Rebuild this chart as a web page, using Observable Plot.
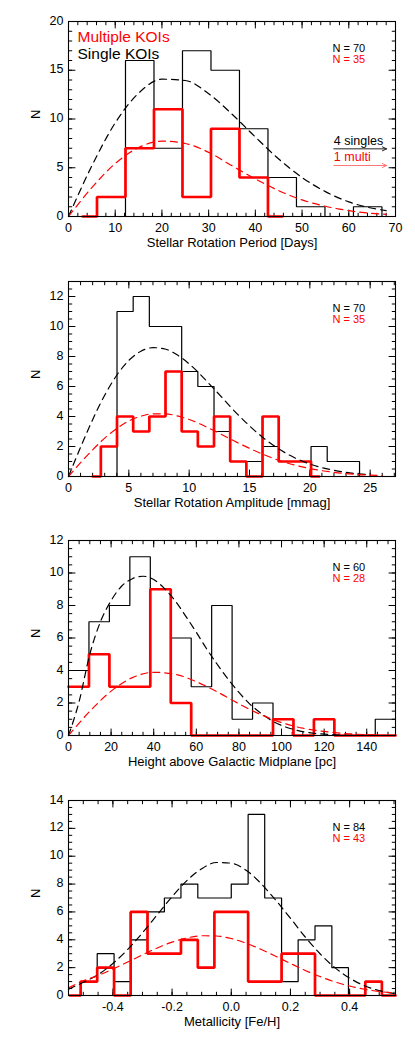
<!DOCTYPE html>
<html><head><meta charset="utf-8">
<script src="https://cdn.jsdelivr.net/npm/d3@7"></script>
<script src="https://cdn.jsdelivr.net/npm/@observablehq/plot@0.6"></script>
<style>
body{margin:0;background:#fff;}
#wrap{position:relative;width:415px;height:1038px;overflow:hidden;background:#fff;}
.panel{position:absolute;left:0;}
</style></head><body><div id="wrap"></div>
<script>
// ---------- Panel 1: Stellar Rotation Period ----------
const p1SingleX = [9.15, 12.2, 18.3, 24.4, 30.5, 36.6, 42.7, 48.8, 54.9, 61.0, 67.1, 70];
const p1SingleN = [0, 16, 7, 17, 15, 9, 4, 1, 0, 1, 0];
const p1MultiX  = [3.05, 6.1, 12.2, 18.3, 24.4, 30.5, 36.6, 42.7, 45.75];
const p1MultiN  = [0, 2, 7, 11, 2, 9, 4, 0];
const p1FitX       = [0, 5, 10, 15, 20, 25, 30, 35, 40, 45, 50, 55, 60, 65, 68];
const p1SingleFitY = [0, 5.2, 9.6, 12.65, 14.08, 13.95, 12.6, 10.5, 8.15, 5.9, 4.0, 2.55, 1.5, 0.85, 0.6];
const p1MultiFitY  = [0, 2.96, 5.43, 7.07, 7.73, 7.49, 6.58, 5.2, 3.85, 2.65, 1.7, 1.05, 0.6, 0.32, 0.22];

// ---------- Panel 2: Stellar Rotation Amplitude ----------
const p2SingleX = [3.35, 4.02, 5.36, 6.70, 8.04, 9.38, 10.72, 12.06, 13.40, 14.74, 16.08, 17.42, 18.76, 20.10, 21.44, 22.78, 24.12, 24.79];
const p2SingleN = [0, 11, 12, 10, 10, 7, 6, 3, 1, 1, 2, 1, 1, 2, 1, 1, 0];
const p2MultiX  = [2.01, 2.68, 4.02, 5.36, 6.70, 8.04, 9.38, 10.72, 12.06, 13.40, 14.74, 16.08, 17.42, 18.76, 20.10, 20.77];
const p2MultiN  = [0, 2, 4, 3, 4, 7, 3, 2, 4, 1, 0, 4, 1, 1, 0];
const p2SingleFitX = [0, 1, 2, 3, 4, 5, 6, 7, 8, 9, 10, 12, 14, 16, 18, 20, 22, 24, 25];
const p2SingleFitY = [0, 1.95, 3.79, 5.42, 6.75, 7.74, 8.35, 8.59, 8.5, 8.11, 7.51, 5.89, 4.16, 2.67, 1.56, 0.83, 0.41, 0.18, 0.12];
const p2MultiFitX  = [0, 1, 2, 3, 4, 5, 6, 7, 8, 9, 10, 12, 14, 16, 18, 20, 22, 24, 26];
const p2MultiFitY  = [0, 0.92, 1.78, 2.56, 3.2, 3.7, 4.02, 4.18, 4.18, 4.04, 3.8, 3.08, 2.26, 1.52, 0.93, 0.53, 0.28, 0.13, 0.06];

// ---------- Panel 3: Height above Galactic Midplane ----------
const p3X       = [0, 9.6, 19.2, 28.8, 38.4, 48, 57.6, 67.2, 76.8, 86.4, 96, 105.6, 115.2, 124.8, 134.4, 144, 153.5];
const p3SingleN = [4, 7, 8, 11, 9, 6, 3, 8, 1, 2, 0, 0, 0, 0, 0, 1];
const p3MultiN  = [3, 5, 3, 3, 9, 2, 0, 0, 0, 0, 1, 0, 1, 0, 0, 0];
const p3SingleFitX = [0, 5, 10, 15, 20, 25, 30, 35, 40, 45, 50, 55, 60, 65, 70, 75, 80, 85, 90, 95, 100, 105, 110, 115, 120, 130, 140];
const p3SingleFitY = [0, 2.1, 5.0, 7.0, 8.3, 9.2, 9.65, 9.8, 9.6, 9.05, 8.3, 7.35, 6.35, 5.3, 4.35, 3.45, 2.65, 1.95, 1.4, 0.95, 0.62, 0.4, 0.24, 0.14, 0.08, 0.02, 0];
const p3MultiFitX  = [0, 10, 20, 30, 40, 50, 60, 70, 80, 90, 100, 110, 120, 130, 145];
const p3MultiFitY  = [0, 1.49, 2.73, 3.56, 3.89, 3.77, 3.31, 2.67, 1.95, 1.3, 0.8, 0.45, 0.25, 0.12, 0.04];

// ---------- Panel 4: Metallicity ----------
const p4X = [-0.545, -0.509, -0.453, -0.396, -0.340, -0.283, -0.226, -0.170, -0.113, -0.057, 0, 0.057, 0.113, 0.170, 0.226, 0.283, 0.340, 0.396, 0.453, 0.509, 0.555];
const p4SingleN = [0, 1, 3, 1, 4, 6, 7, 8, 7, 7, 8, 13, 7, 1, 4, 5, 2, 0, 0, 0];
const p4MultiN  = [0, 1, 2, 0, 6, 3, 3, 4, 2, 6, 6, 1, 1, 3, 3, 0, 0, 0, 1, 0];
const p4FitX       = [-0.55, -0.5, -0.45, -0.4, -0.35, -0.3, -0.25, -0.2, -0.15, -0.1, -0.05, 0, 0.05, 0.1, 0.15, 0.2, 0.25, 0.3, 0.35, 0.4, 0.45, 0.5, 0.55];
const p4SingleFitY = [0.45, 0.95, 1.5, 2.3, 3.3, 4.5, 5.8, 7.1, 8.25, 9.1, 9.55, 9.5, 9.0, 8.05, 6.85, 5.55, 4.2, 3.0, 2.0, 1.25, 0.7, 0.35, 0.15];
const p4MultiFitY  = [0.55, 1.05, 1.44, 1.9, 2.4, 2.92, 3.41, 3.83, 4.13, 4.29, 4.27, 4.09, 3.76, 3.32, 2.82, 2.3, 1.8, 1.36, 0.98, 0.68, 0.45, 0.29, 0.18];

// ---------- Tick labels ----------
const p1XTicks = [0, 10, 20, 30, 40, 50, 60, 70], p1XLabels = ["0","10","20","30","40","50","60","70"];
const p1YTicks = [0, 5, 10, 15, 20], p1YLabels = ["0","5","10","15","20"];
const p2XTicks = [0, 5, 10, 15, 20, 25], p2XLabels = ["0","5","10","15","20","25"];
const p2YTicks = [0, 2, 4, 6, 8, 10, 12], p2YLabels = ["0","2","4","6","8","10","12"];
const p3XTicks = [0, 20, 40, 60, 80, 100, 120, 140], p3XLabels = ["0","20","40","60","80","100","120","140"];
const p3YTicks = [0, 2, 4, 6, 8, 10, 12], p3YLabels = ["0","2","4","6","8","10","12"];
const p4XTicks = [-0.4, -0.2, 0, 0.2, 0.4], p4XLabels = ["-0.4","-0.2","0.0","0.2","0.4"];
const p4YTicks = [0, 2, 4, 6, 8, 10, 12, 14], p4YLabels = ["0","2","4","6","8","10","12","14"];

const titles = ["Stellar Rotation Period [Days]", "Stellar Rotation Amplitude [mmag]", "Height above Galactic Midplane [pc]", "Metallicity [Fe/H]"];
const nSingle = ["N = 70", "N = 70", "N = 60", "N = 84"];
const nMulti  = ["N = 35", "N = 35", "N = 28", "N = 43"];
const legendLabels = ["Multiple KOIs", "Single KOIs"];
const outLabels = [{label: "4 singles", x: 56.8, y: 7.38, x2: 68.1, ya: 6.94, color: "#000", arrow: "#222"},
                   {label: "1 multi",   x: 56.8, y: 5.67, x2: 68.1, ya: 5.23, color: "#ff0000", arrow: "#ff7878"}];

const RED = "#ff0000";
const zip = (xs, ys) => xs.map((x, i) => ({x, y: ys[i]}));
const steps = (xs, ns) => { const p = ns.map((n, i) => ({x: xs[i], y: n})); p.push({x: xs[xs.length - 1], y: ns[ns.length - 1]}); return p; };

const panels = [
  {top: 0, xd: [0, 70], yd: [0, 20], xMinor: 2, yMinor: 1, xT: p1XTicks, xL: p1XLabels, yT: p1YTicks, yL: p1YLabels,
   sX: p1SingleX, sN: p1SingleN, mX: p1MultiX, mN: p1MultiN, sf: zip(p1FitX, p1SingleFitY), mf: zip(p1FitX, p1MultiFitY)},
  {top: 260, xd: [0, 27.1], yd: [0, 13], xMinor: 1, yMinor: 0.5, xT: p2XTicks, xL: p2XLabels, yT: p2YTicks, yL: p2YLabels,
   sX: p2SingleX, sN: p2SingleN, mX: p2MultiX, mN: p2MultiN, sf: zip(p2SingleFitX, p2SingleFitY), mf: zip(p2MultiFitX, p2MultiFitY)},
  {top: 519, xd: [0, 153.5], yd: [0, 12], xMinor: 5, yMinor: 0.5, xT: p3XTicks, xL: p3XLabels, yT: p3YTicks, yL: p3YLabels,
   sX: p3X, sN: p3SingleN, mX: p3X, mN: p3MultiN, sf: zip(p3SingleFitX, p3SingleFitY), mf: zip(p3MultiFitX, p3MultiFitY)},
  {top: 779, xd: [-0.55, 0.555], yd: [0, 14], xMinor: 0.05, yMinor: 0.5, xT: p4XTicks, xL: p4XLabels, yT: p4YTicks, yL: p4YLabels,
   sX: p4X, sN: p4SingleN, mX: p4X, mN: p4MultiN, sf: zip(p4FitX, p4SingleFitY), mf: zip(p4FitX, p4MultiFitY)}
];

const tickShape = {draw(ctx, l) { ctx.moveTo(0, 0); ctx.lineTo(0, -l); }};
function ticks(vals, anchor, len) {
  const horiz = anchor === "bottom" || anchor === "top";
  return Plot.vector(vals, {
    [horiz ? "x" : "y"]: d => d,
    frameAnchor: anchor, anchor: "start", length: len, shape: tickShape,
    rotate: {bottom: 0, top: 180, left: 90, right: -90}[anchor],
    stroke: "#000", strokeWidth: 1
  });
}
function minorVals(domain, step) {
  const a = Math.ceil(domain[0] / step - 1e-9), b = Math.floor(domain[1] / step + 1e-9);
  return d3.range(a, b + 1).map(k => +(k * step).toFixed(6));
}

const wrap = document.getElementById("wrap");
panels.forEach((p, k) => {
  const xm = minorVals(p.xd, p.xMinor), ym = minorVals(p.yd, p.yMinor);
  const MAJ = 6.5, MIN = 3.3;
  const marks = [
    ticks(xm, "bottom", MIN), ticks(xm, "top", MIN), ticks(ym, "left", MIN), ticks(ym, "right", MIN),
    ticks(p.xT, "bottom", MAJ), ticks(p.xT, "top", MAJ), ticks(p.yT, "left", MAJ), ticks(p.yT, "right", MAJ),
    Plot.line(steps(p.sX, p.sN), {x: "x", y: "y", curve: "step-after", stroke: "#000", strokeWidth: 1.2, strokeLinejoin: "miter"}),
    Plot.line(steps(p.mX, p.mN), {x: "x", y: "y", curve: "step-after", stroke: RED, strokeWidth: 2.7, strokeLinejoin: "miter"}),
    Plot.line(p.sf, {x: "x", y: "y", curve: "monotone-x", stroke: "#000", strokeWidth: 1.2, strokeDasharray: "7,5"}),
    Plot.line(p.mf, {x: "x", y: "y", curve: "monotone-x", stroke: RED, strokeWidth: 1.2, strokeDasharray: "7,5"}),
    Plot.frame({stroke: "#000", strokeWidth: 1.1}),
    Plot.text(p.xT, {x: d => d, text: (d, i) => p.xL[i], frameAnchor: "bottom", dy: 15, lineAnchor: "bottom", fontSize: 12.5, fill: "#000"}),
    Plot.text(p.yT, {y: d => d, text: (d, i) => p.yL[i], frameAnchor: "left", dx: -5, dy: -1, textAnchor: "end", fontSize: 12.5, fill: "#000"}),
    Plot.text([titles[k]], {text: d => d, frameAnchor: "bottom", dy: 30, lineAnchor: "bottom", fontSize: 13, fill: "#000"}),
    Plot.text(["N"], {text: d => d, frameAnchor: "left", dx: -33, rotate: -90, fontSize: 13, fill: "#000"}),
    Plot.text([nSingle[k]], {text: d => d, frameAnchor: "top-left", dx: 264, dy: 30, textAnchor: "start", lineAnchor: "bottom", fontSize: 11, fill: "#000"}),
    Plot.text([nMulti[k]], {text: d => d, frameAnchor: "top-left", dx: 264, dy: 41.5, textAnchor: "start", lineAnchor: "bottom", fontSize: 11, fill: RED})
  ];
  if (k === 0) {
    marks.push(
      Plot.text([legendLabels[0]], {text: d => d, frameAnchor: "top-left", dx: 9, dy: 20, textAnchor: "start", lineAnchor: "bottom", fontSize: 15.5, fill: RED}),
      Plot.text([legendLabels[1]], {text: d => d, frameAnchor: "top-left", dx: 9, dy: 37, textAnchor: "start", lineAnchor: "bottom", fontSize: 15.5, fill: "#000"}),
      Plot.text(outLabels, {x: "x", y: "y", text: "label", fill: d => d.color, textAnchor: "start", lineAnchor: "bottom", fontSize: 12.5}),
      Plot.arrow(outLabels, {x1: "x", x2: "x2", y1: "ya", y2: "ya", stroke: d => d.arrow, strokeWidth: 1, headLength: 7, headAngle: 50})
    );
  }
  const chart = Plot.plot({
    width: 415, height: 259,
    marginLeft: 68, marginRight: 20, marginTop: 21, marginBottom: 43,
    x: {domain: p.xd, axis: null},
    y: {domain: p.yd, axis: null},
    color: {type: "identity"},
    style: {fontFamily: "'Liberation Sans', Arial, Helvetica, sans-serif", background: "transparent", color: "#000", overflow: "visible"},
    marks
  });
  const div = document.createElement("div");
  div.className = "panel";
  div.style.top = p.top + "px";
  div.appendChild(chart);
  wrap.appendChild(div);
});
</script></body></html>
